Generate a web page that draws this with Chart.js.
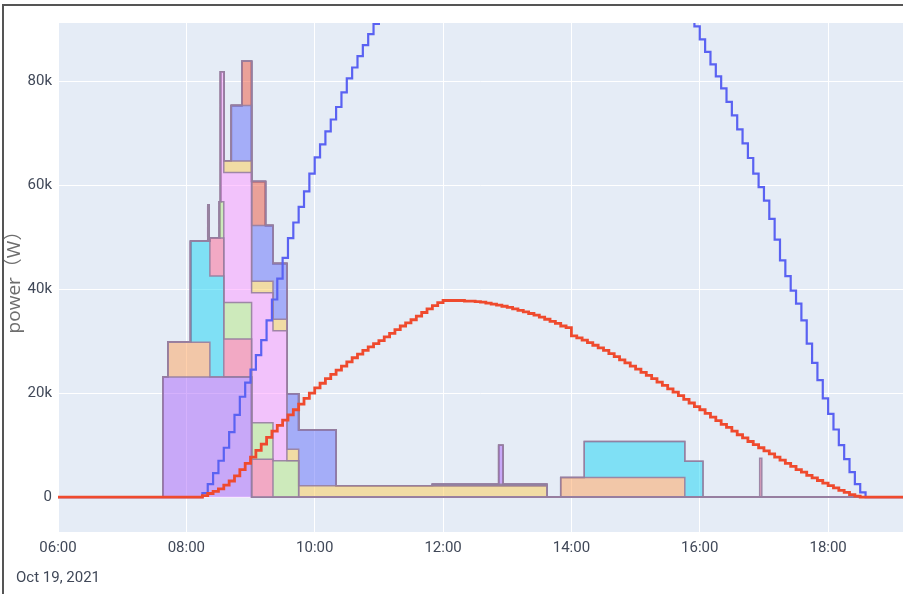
<!DOCTYPE html>
<html>
<head>
<meta charset="utf-8">
<script src="https://cdn.jsdelivr.net/npm/chart.js@4.4.1/dist/chart.umd.min.js"></script>
<style>
  html, body { margin: 0; padding: 0; background: #fff; }
  #wrap { position: relative; width: 903px; height: 594px; overflow: hidden; }
  #frame { position: absolute; left: 2px; top: 4px; width: 1200px; height: 1200px; border: 2px solid #555; pointer-events: none; }
</style>
</head>
<body>
<div id="wrap">
  <canvas id="chart" width="903" height="594"></canvas>
  <div id="frame"></div>
</div>
<script>
// ---- data (times are HH:MM on Oct 19, 2021, power in W) ----
const dayLabel = "Oct 19, 2021";
const xRange = ["06:00", "19:10"];
const xTickTimes = ["06:00", "08:00", "10:00", "12:00", "14:00", "16:00", "18:00"];
const yTickValues = [0, 20000, 40000, 60000, 80000];
const yTickLabels = ["0", "20k", "40k", "60k", "80k"];
const yRange = [-6700, 91150];

// stacked loads: [time the value starts, value] change points
const loadPurple  = [["07:38", 23100], ["09:01", 0]];
const loadOrange  = [["07:43", 6700], ["08:22", 0]];
const loadCyan    = [["08:04", 19400], ["08:35", 0]];
const loadPink    = [["08:22", 7300], ["09:21", 0]];
const loadLime    = [["08:20", 7000], ["08:21", 0], ["08:31", 7000], ["09:45", 0]];
const loadMagenta = [["08:32", 25000], ["09:34", 0]];
const loadYellow  = [["08:35", 2200], ["13:37", 0]];
const loadBlue    = [["08:42", 10700], ["10:20", 0]];
const loadRed     = [["08:52", 8500], ["09:14", 0]];
const loadGreen   = [["11:50", 300], ["13:37", 0]];
const loadPurple2 = [["12:52", 7500], ["12:56", 0]];
const loadOrange2 = [["13:50", 3800], ["15:46", 0]];
const loadCyan2   = [["14:12", 6900], ["16:03", 0]];
const loadPink2   = [["16:56", 7500], ["16:58", 0]];

// 5-minute samples
const sampleStep = 5;
const pvStart = "08:10";
const pvPower = [
  0, 300, 700, 1100, 1600, 2300, 3100, 4100, 5300, 6500,
  7700, 9000, 10200, 11500, 12700, 13800, 14800, 15800, 16800, 17900,
  19000, 20000, 21000, 21900, 22800, 23600, 24400, 25200, 26000, 26800,
  27500, 28200, 28900, 29500, 30100, 30800, 31500, 32200, 32900, 33500,
  34100, 34800, 35500, 36200, 36800, 37400, 37800, 37800, 37800, 37800,
  37700, 37700, 37600, 37500, 37300, 37100, 36900, 36700, 36500, 36200,
  35900, 35600, 35300, 35000, 34600, 34200, 33800, 33400, 32900, 32600,
  31000, 30600, 30200, 29700, 29200, 28700, 28200, 27600, 27000, 26400,
  25800, 25200, 24600, 24000, 23400, 22800, 22100, 21500, 20800, 20200,
  19500, 18800, 18100, 17400, 16800, 16100, 15400, 14700, 14000, 13400,
  12700, 12000, 11400, 10700, 10100, 9500, 8900, 8300, 7700, 7100,
  6500, 5900, 5300, 4800, 4200, 3700, 3200, 2700, 2200, 1800,
  1300, 900, 500, 200, 0
];
const clearSkyAmStart = "08:10";
const clearSkyAm = [
  0, 800, 2500, 4600, 7000, 9500, 12500, 15800, 19300, 22000,
  24500, 27300, 30200, 34000, 38000, 42000, 46000, 49800, 52800, 55800,
  58800, 62200, 65300, 67800, 70300, 72600, 75000, 77800, 80500, 82600,
  84800, 86900, 89000, 91000, 93000
];
const clearSkyPmStart = "15:50";
const clearSkyPm = [
  93000, 90500, 88000, 85600, 83200, 80900, 78600, 76000, 73400, 70700,
  68000, 65200, 62200, 59600, 57000, 53500, 49500, 45500, 42500, 39700,
  37200, 34000, 29500, 25800, 22500, 19000, 16000, 13000, 10000, 7300,
  4800, 2500, 900, 0
];

// ---- helpers ----
const toMin = (t) => { const [h, m] = t.split(":").map(Number); return h * 60 + m; };
const fmt = (v) => String(Math.floor(v / 60)).padStart(2, "0") + ":" + String(v % 60).padStart(2, "0");

const stackLoads = [loadPurple, loadOrange, loadCyan, loadPink, loadLime, loadMagenta, loadYellow,
  loadBlue, loadRed, loadGreen, loadPurple2, loadOrange2, loadCyan2, loadPink2];
const stackColors = ["171,99,250", "255,161,90", "25,211,243", "255,102,146", "182,232,128", "255,151,255",
  "254,203,82", "99,110,250", "239,85,59", "0,204,150", "171,99,250", "255,161,90", "25,211,243", "255,102,146"];

// common time grid so every stacked trace has a value at every step
const gridSet = new Set([toMin(xRange[0]), toMin(xRange[1])]);
stackLoads.forEach(s => s.forEach(p => gridSet.add(toMin(p[0]))));
const grid = [...gridSet].sort((a, b) => a - b);

function stepValues(points) {
  return grid.map(x => {
    let y = 0;
    points.forEach(p => { if (toMin(p[0]) <= x) y = p[1]; });
    return { x, y };
  });
}

function sampled(start, values) {
  const s = toMin(start);
  return values.map((y, i) => ({ x: s + i * sampleStep, y }));
}

const pvData = [{ x: toMin(xRange[0]), y: 0 }, ...sampled(pvStart, pvPower), { x: toMin(xRange[1]), y: 0 }];
const amPts = sampled(clearSkyAmStart, clearSkyAm);
const clearData = [{ x: toMin(xRange[0]), y: 0 }, ...amPts,
  { x: amPts[amPts.length - 1].x + sampleStep, y: null },
  ...sampled(clearSkyPmStart, clearSkyPm), { x: toMin(xRange[1]), y: 0 }];

const datasets = [
  { data: pvData, borderColor: "#ef4a2e", borderWidth: 2.8, stack: "pv", fill: false, stepped: true, pointRadius: 0 },
  { data: clearData, borderColor: "#5a62f2", borderWidth: 2.2, stack: "clear", fill: false, stepped: true, pointRadius: 0, spanGaps: false }
];
stackLoads.forEach((s, i) => {
  datasets.push({
    data: stepValues(s),
    stack: "load",
    stepped: true,
    pointRadius: 0,
    borderWidth: 1.5,
    borderColor: "rgba(150,126,160,0.9)",
    backgroundColor: `rgba(${stackColors[i]},0.5)`,
    fill: i === 0 ? "origin" : "-1"
  });
});

const plotBg = {
  id: "plotBg",
  beforeDraw(chart) {
    const { ctx, chartArea: a } = chart;
    ctx.save();
    ctx.fillStyle = "#e5ecf6";
    ctx.fillRect(a.left, a.top, a.right - a.left, a.bottom - a.top);
    ctx.restore();
  }
};

const tickFont = { family: 'Roboto, "Open Sans", sans-serif', size: 15, lineHeight: 2 };

new Chart(document.getElementById("chart"), {
  type: "line",
  data: { datasets },
  options: {
    responsive: false,
    animation: false,
    devicePixelRatio: 1,
    layout: { padding: { top: 23, right: 0, left: 0, bottom: 0 } },
    plugins: { legend: { display: false }, tooltip: { enabled: false } },
    scales: {
      x: {
        type: "linear",
        min: toMin(xRange[0]),
        max: toMin(xRange[1]),
        afterBuildTicks: (s) => { s.ticks = xTickTimes.map(t => ({ value: toMin(t) })); },
        afterFit: (s) => { s.height = 62; },
        grid: { color: "#ffffff", lineWidth: 1, drawTicks: false },
        border: { display: false },
        ticks: {
          padding: 1,
          color: "#404858",
          font: tickFont,
          maxRotation: 0,
          autoSkip: false,
          callback: (v) => v === toMin(xTickTimes[0]) ? [fmt(v), dayLabel] : fmt(v)
        }
      },
      y: {
        stacked: true,
        min: yRange[0],
        max: yRange[1],
        afterBuildTicks: (s) => { s.ticks = yTickValues.map(v => ({ value: v })); },
        afterFit: (s) => { s.width = 58; },
        grid: { color: "#ffffff", lineWidth: (c) => c.tick && c.tick.value === 0 ? 2 : 1, drawTicks: false },
        border: { display: false },
        title: {
          display: true,
          text: "power（W）",
          color: "#6e6e6e",
          font: { family: '"Open Sans", "Noto Sans CJK SC", sans-serif', size: 19, lineHeight: 1.2 },
          padding: { top: 3, bottom: 0 }
        },
        ticks: {
          padding: 6,
          color: "#404858",
          font: tickFont,
          callback: (v) => yTickLabels[yTickValues.indexOf(v)]
        }
      }
    }
  },
  plugins: [plotBg]
});
</script>
</body>
</html>
